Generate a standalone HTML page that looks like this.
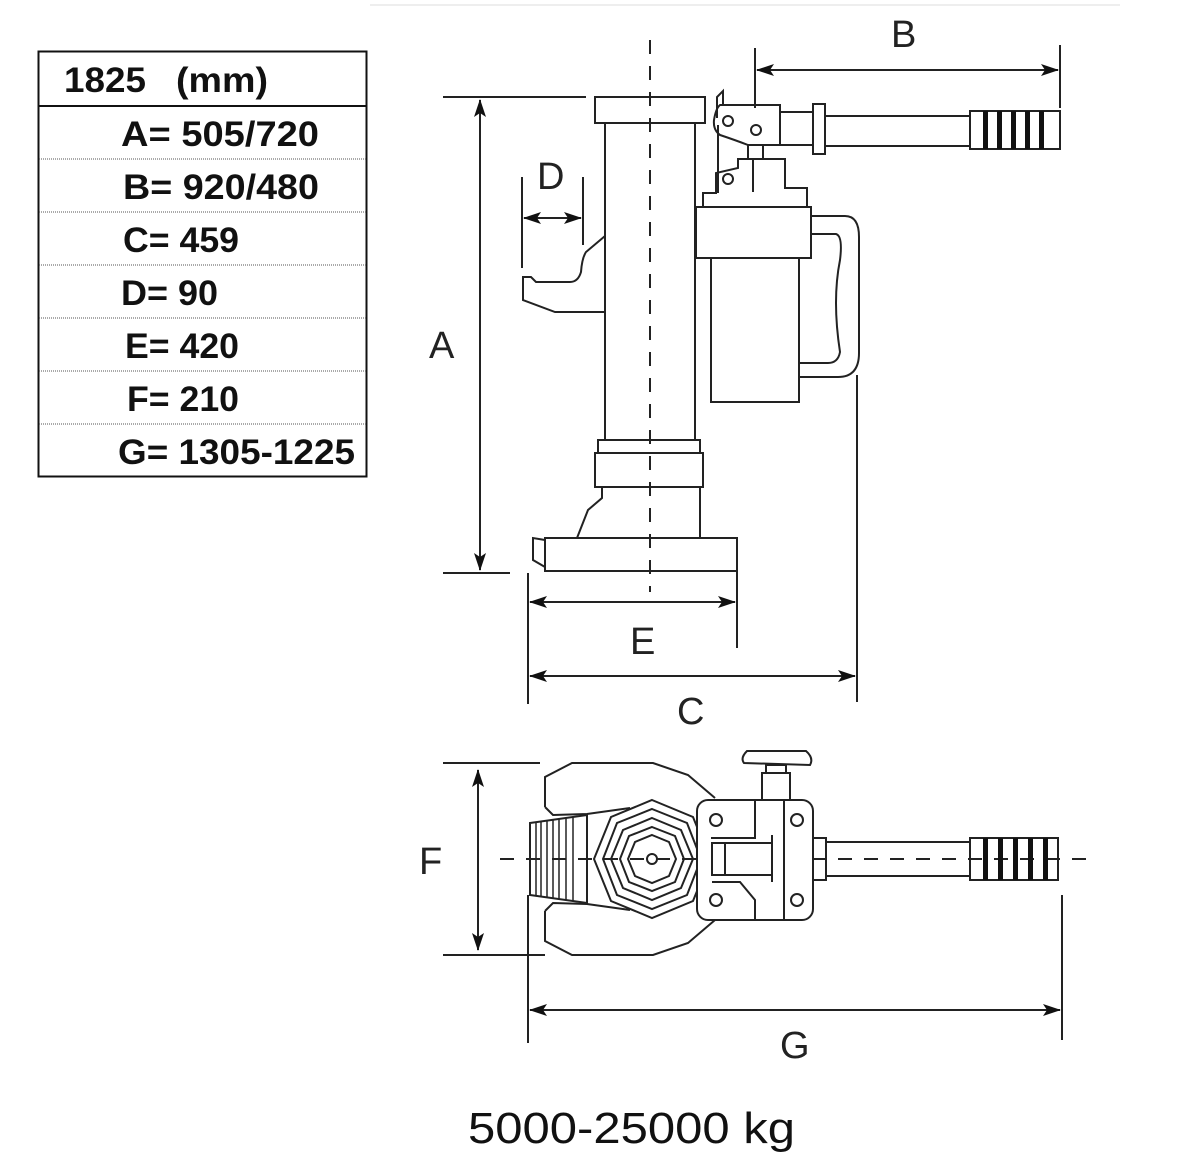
<!DOCTYPE html>
<html><head><meta charset="utf-8"><style>
html,body{margin:0;padding:0;background:#fff}
svg{display:block}
text{font-family:"Liberation Sans",sans-serif}
</style></head><body>
<svg width="1200" height="1174" viewBox="0 0 1200 1174" xmlns="http://www.w3.org/2000/svg">
<defs>
<marker id="ah" markerWidth="18" markerHeight="12" refX="17" refY="6" orient="auto-start-reverse" markerUnits="userSpaceOnUse">
<path d="M0,0 L18,6 L0,12 L4,6 Z" fill="#111"/></marker>
</defs>
<line x1="370" y1="5" x2="1120" y2="5" stroke="#eee" stroke-width="2"/>
<!-- table -->
<g stroke="#111" fill="none">
<rect x="38.5" y="51.5" width="328" height="425" stroke-width="2"/>
<line x1="38" y1="106" x2="367" y2="106" stroke-width="2"/>
<g stroke-dasharray="1,1" stroke-width="1" stroke="#555">
<line x1="39" y1="159" x2="366" y2="159"/><line x1="39" y1="212" x2="366" y2="212"/>
<line x1="39" y1="265" x2="366" y2="265"/><line x1="39" y1="318" x2="366" y2="318"/>
<line x1="39" y1="371" x2="366" y2="371"/><line x1="39" y1="424" x2="366" y2="424"/>
</g></g>
<g font-weight="bold" font-size="35" fill="#111">
<text x="64" y="92" textLength="82" lengthAdjust="spacingAndGlyphs">1825</text>
<text x="176" y="92" textLength="92" lengthAdjust="spacingAndGlyphs">(mm)</text>
<text x="121" y="146" textLength="198" lengthAdjust="spacingAndGlyphs">A= 505/720</text>
<text x="123" y="199" textLength="196" lengthAdjust="spacingAndGlyphs">B= 920/480</text>
<text x="123" y="252" textLength="116" lengthAdjust="spacingAndGlyphs">C= 459</text>
<text x="121" y="305" textLength="97" lengthAdjust="spacingAndGlyphs">D= 90</text>
<text x="125" y="358" textLength="114" lengthAdjust="spacingAndGlyphs">E= 420</text>
<text x="127" y="411" textLength="112" lengthAdjust="spacingAndGlyphs">F= 210</text>
<text x="118" y="464" textLength="237" lengthAdjust="spacingAndGlyphs">G= 1305-1225</text>
</g>
<!-- side view -->
<g stroke="#222" stroke-width="2" fill="none">
<line x1="650" y1="40" x2="650" y2="592" stroke-dasharray="14,12"/>
<rect x="595" y="97" width="110" height="26" fill="none"/>
<line x1="605" y1="123" x2="605" y2="440"/><line x1="695" y1="123" x2="695" y2="440"/>
<rect x="598" y="440" width="102" height="13"/>
<rect x="595" y="453" width="108" height="34"/>
<polyline points="602,487 602,498 588,510 577,538"/>
<line x1="700" y1="487" x2="700" y2="538"/>
<rect x="545" y="538" width="192" height="33"/>
<polyline points="545,540 533,538 533,560 545,567"/>
<path d="M605,236 L586,252 Q582,258 581,272 Q578,282 570,282 L536,282 L531,277 L523,277 L523,300 L555,312 L605,312"/>
<!-- pump -->
<rect x="696" y="207" width="115" height="51"/>
<rect x="711" y="258" width="88" height="144"/>
<path d="M811,216 L845,216 Q859,216 859,237 L859,353 Q859,377 838,377 L799,377"/>
<path d="M811,234 L836,234 Q843,236 840,260 Q832,300 840,352 Q838,363 828,363 L799,363"/>
<polyline points="703,207 703,193 716,193 716,173 738,168 738,159 785,159 785,188 807,188 807,207"/>
<line x1="753" y1="159" x2="753" y2="192"/>
<line x1="718" y1="125" x2="718" y2="193"/>
<circle cx="728" cy="179" r="5"/>
<path d="M720,105 L780,105 L780,145 L748,145 Q735,140 720,135 Q713,130 714,120 Q716,108 720,105 Z"/>
<polyline points="717,118 717,97 723,91 723,106"/>
<circle cx="728" cy="121" r="5"/><circle cx="756" cy="130" r="5"/>
<line x1="748" y1="145" x2="748" y2="159"/><line x1="763" y1="145" x2="763" y2="159"/>
<rect x="780" y="112" width="33" height="33"/>
<rect x="813" y="104" width="12" height="50"/>
<line x1="825" y1="116" x2="970" y2="116"/><line x1="825" y1="146" x2="970" y2="146"/>
<rect x="970" y="111" width="90" height="38"/>
</g>
<g fill="#111">
<rect x="983" y="111" width="5" height="38"/><rect x="997" y="111" width="5" height="38"/>
<rect x="1011" y="111" width="5" height="38"/><rect x="1025" y="111" width="5" height="38"/>
<rect x="1039" y="111" width="5" height="38"/>
</g>
<!-- dimension lines side -->
<g stroke="#222" stroke-width="2" fill="none">
<line x1="443" y1="97" x2="586" y2="97"/><line x1="443" y1="573" x2="510" y2="573"/>
<line x1="480" y1="100" x2="480" y2="570" marker-start="url(#ah)" marker-end="url(#ah)"/>
<line x1="522" y1="177" x2="522" y2="268"/><line x1="583" y1="177" x2="583" y2="245"/>
<line x1="524" y1="218" x2="581" y2="218" marker-start="url(#ah)" marker-end="url(#ah)"/>
<line x1="755" y1="48" x2="755" y2="108"/><line x1="1060" y1="45" x2="1060" y2="108"/>
<line x1="757" y1="70" x2="1058" y2="70" marker-start="url(#ah)" marker-end="url(#ah)"/>
<line x1="857" y1="375" x2="857" y2="702"/>
<line x1="737" y1="572" x2="737" y2="648"/>
<line x1="528" y1="573" x2="528" y2="704"/>
<line x1="530" y1="602" x2="735" y2="602" marker-start="url(#ah)" marker-end="url(#ah)"/>
<line x1="530" y1="676" x2="855" y2="676" marker-start="url(#ah)" marker-end="url(#ah)"/>
</g>
<g font-size="38" fill="#222">
<text x="429" y="358">A</text><text x="891" y="47">B</text><text x="537" y="189">D</text>
<text x="630" y="654">E</text><text x="677" y="724">C</text>
<text x="419" y="874">F</text><text x="780" y="1058">G</text>
</g>
<!-- top view -->
<g stroke="#222" stroke-width="2" fill="none">
<line x1="500" y1="859" x2="1090" y2="859" stroke-dasharray="14,12"/>
<path d="M545,807 L545,777 L572,763 L653,763 L688,775 L715,798 M545,807 L553,815 L587,814 L630,808"/>
<path d="M545,911 L545,941 L572,955 L653,955 L688,943 L715,920 M545,911 L553,903 L587,904 L630,910"/>
<path d="M530,823 L587,815 L587,903 L530,895 Z"/>
<g stroke-width="1.5"><line x1="536" y1="822" x2="536" y2="896"/><line x1="541" y1="821" x2="541" y2="897"/><line x1="547" y1="820" x2="547" y2="898"/><line x1="553" y1="819" x2="553" y2="899"/><line x1="559" y1="818" x2="559" y2="900"/><line x1="566" y1="818" x2="566" y2="900"/><line x1="573" y1="817" x2="573" y2="901"/></g>
<polygon points="652,800 693,817 710,859 693,901 652,918 611,901 594,859 611,817"/>
<polygon points="652,809 687,823 701,859 687,895 652,909 617,895 603,859 617,823"/>
<polygon points="652,818 681,830 693,859 681,888 652,900 623,888 611,859 623,830"/>
<polygon points="652,827 675,836 684,859 675,882 652,891 629,882 620,859 629,836"/>
<polygon points="652,835 669,842 676,859 669,876 652,883 635,876 628,859 635,842"/>
<circle cx="652" cy="859" r="5"/>
<rect x="697" y="800" width="116" height="120" rx="11" fill="#fff"/>
<circle cx="716" cy="820" r="6"/><circle cx="797" cy="820" r="6"/>
<circle cx="716" cy="900" r="6"/><circle cx="797" cy="900" r="6"/>
<rect x="762" y="773" width="28" height="27"/>
<rect x="766" y="765" width="20" height="8"/>
<path d="M744,763 Q740,758 747,751 L806,751 Q814,758 810,765 Z"/>
<polyline points="711,838 755,838 755,800"/>
<rect x="712" y="843" width="60" height="32"/>
<line x1="725" y1="843" x2="725" y2="875"/>
<line x1="772" y1="835" x2="772" y2="882"/>
<line x1="784" y1="800" x2="784" y2="920"/>
<polyline points="712,882 740,882 755,900 755,920"/>
<rect x="813" y="838" width="13" height="42"/>
<line x1="826" y1="842" x2="970" y2="842"/><line x1="826" y1="876" x2="970" y2="876"/>
<rect x="970" y="838" width="88" height="42"/>
<line x1="443" y1="763" x2="540" y2="763"/><line x1="443" y1="955" x2="545" y2="955"/>
<line x1="478" y1="770" x2="478" y2="950" marker-start="url(#ah)" marker-end="url(#ah)"/>
<line x1="528" y1="895" x2="528" y2="1043"/><line x1="1062" y1="895" x2="1062" y2="1040"/>
<line x1="530" y1="1010" x2="1060" y2="1010" marker-start="url(#ah)" marker-end="url(#ah)"/>
</g>
<g fill="#111">
<rect x="983" y="838" width="5" height="42"/><rect x="998" y="838" width="5" height="42"/>
<rect x="1013" y="838" width="5" height="42"/><rect x="1028" y="838" width="5" height="42"/>
<rect x="1043" y="838" width="5" height="42"/>
</g>
<text x="468" y="1143" font-size="44" fill="#111" textLength="327" lengthAdjust="spacingAndGlyphs">5000-25000 kg</text>
</svg>
</body></html>
